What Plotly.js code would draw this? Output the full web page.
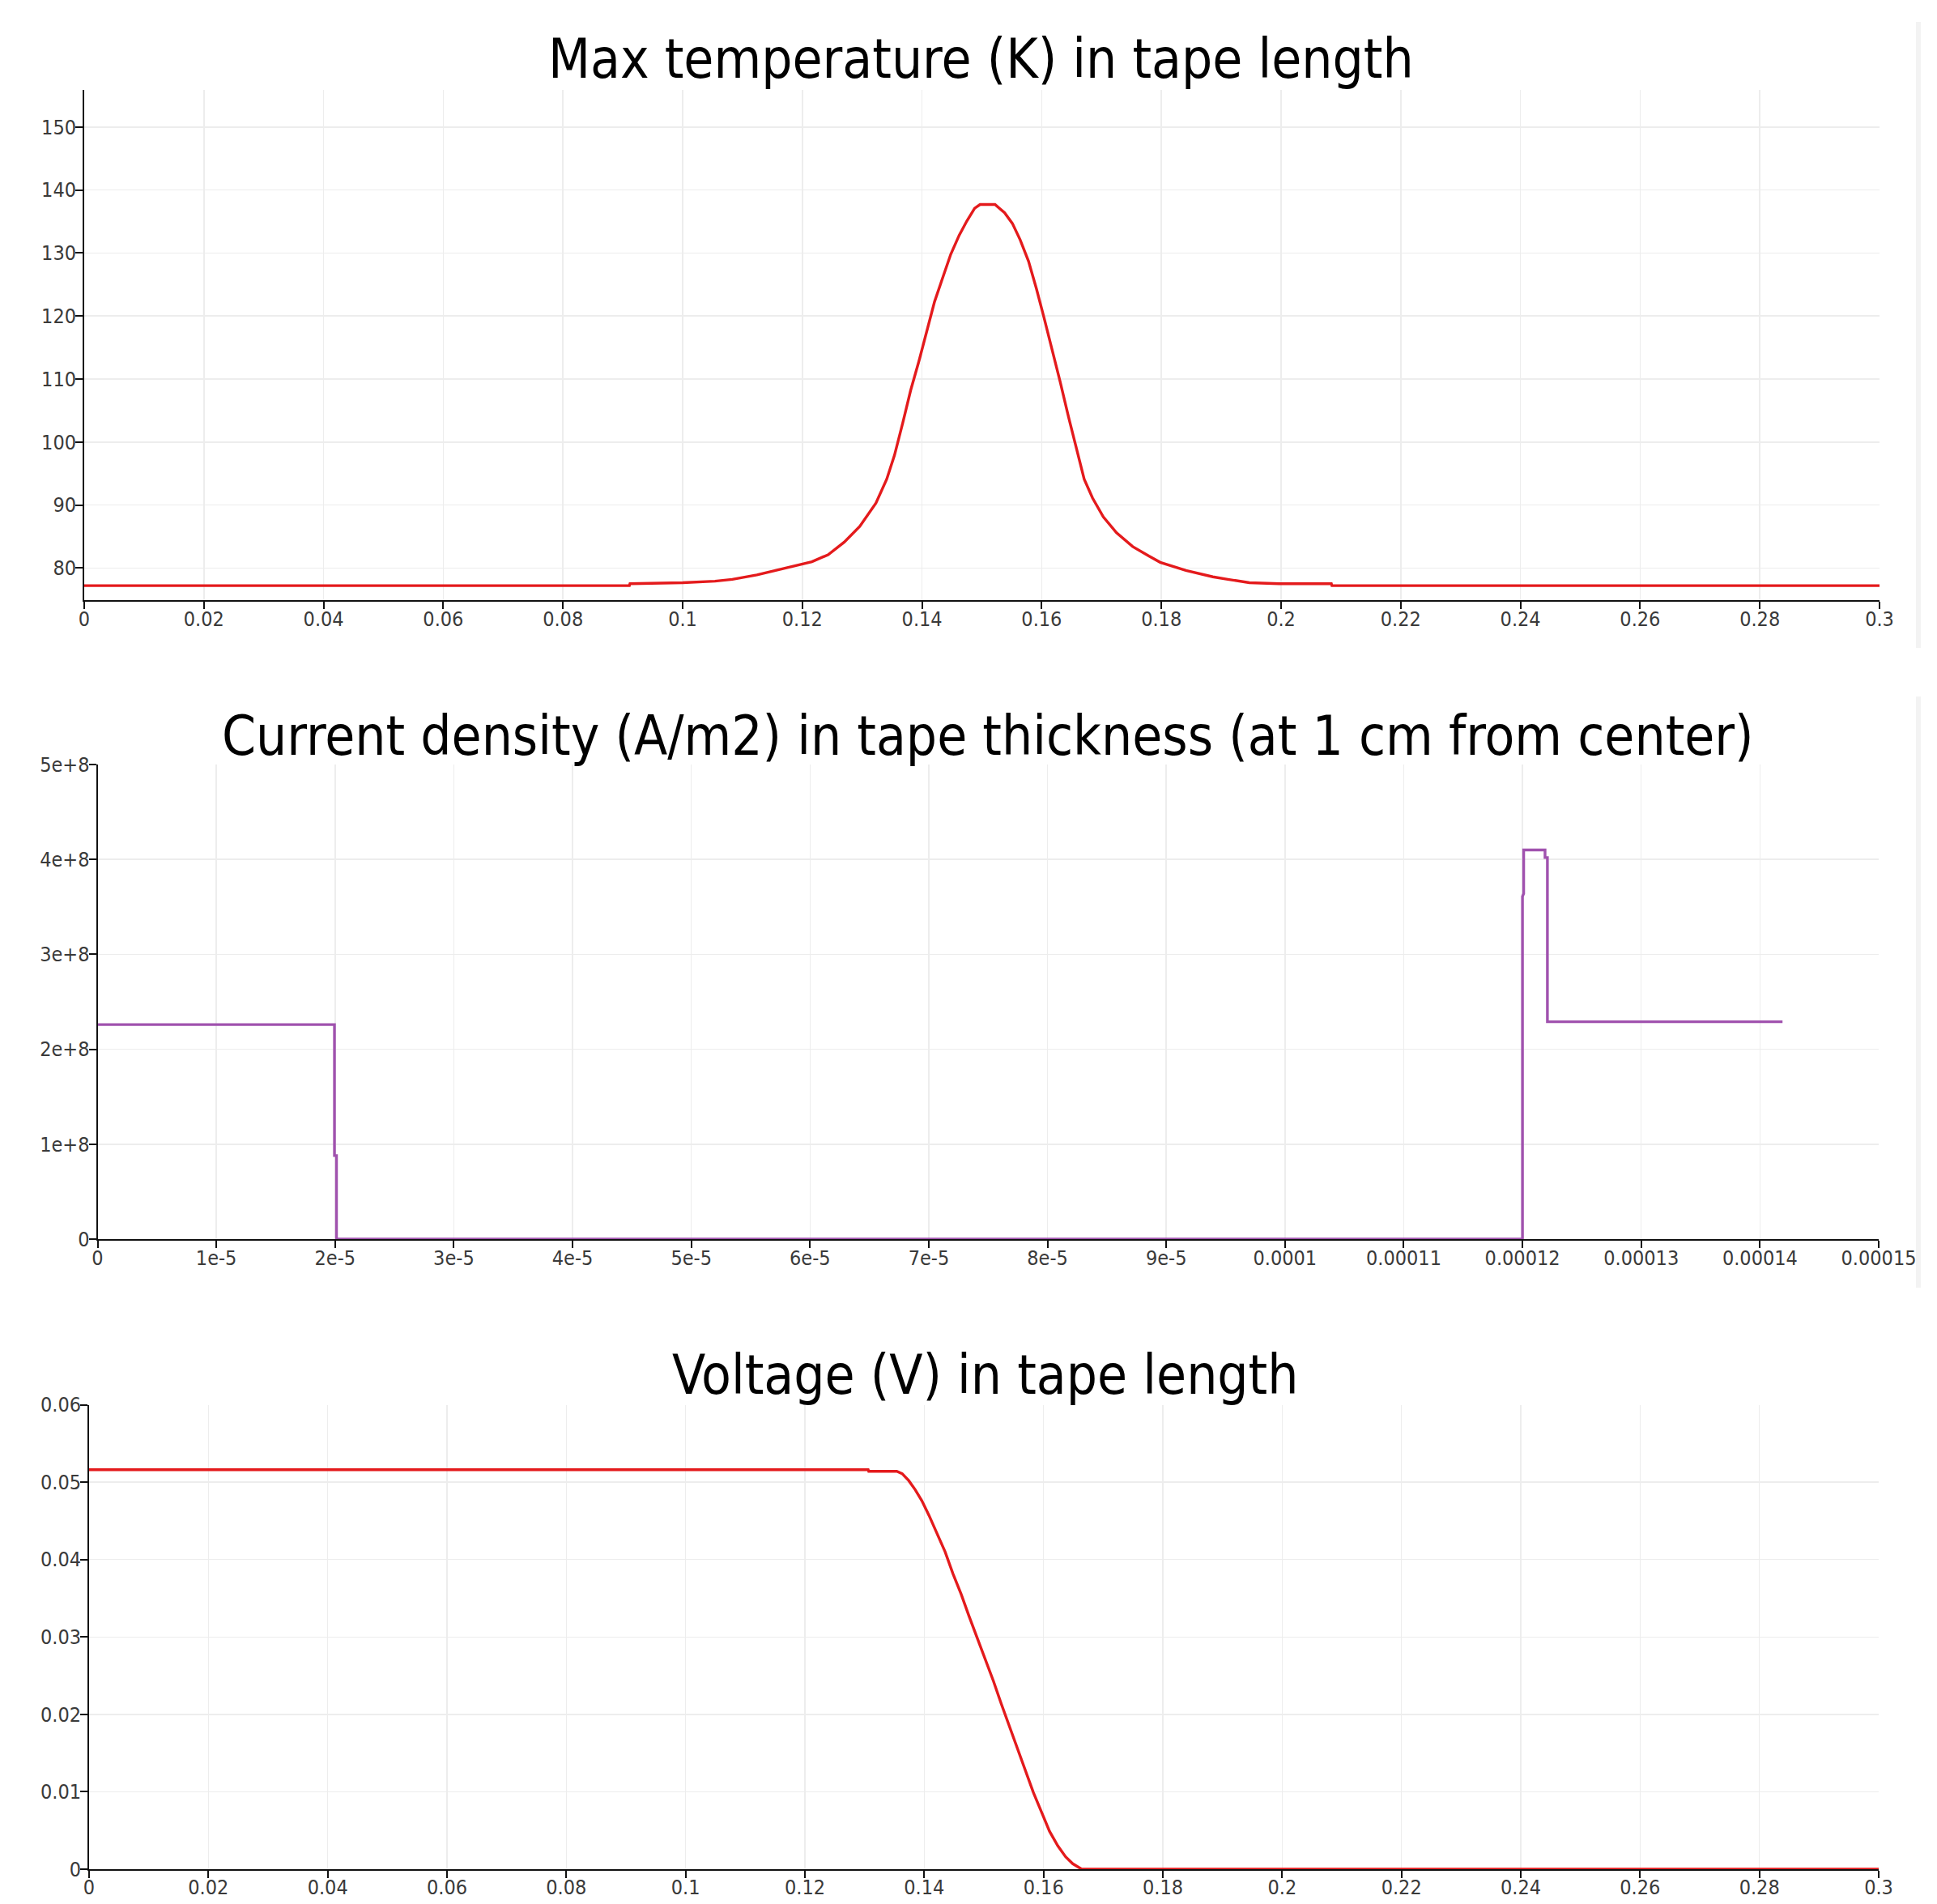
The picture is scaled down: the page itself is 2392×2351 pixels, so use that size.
<!DOCTYPE html>
<html>
<head>
<meta charset="utf-8">
<script src="https://cdn.plot.ly/plotly-3.0.1.min.js"></script>
<style>
  html, body { margin: 0; padding: 0; background: #ffffff; }
  #chart { width: 2392px; height: 2351px; }
</style>
</head>
<body>
<div id="chart"></div>
<script>
// ---- Data: Max temperature (K) along tape length (m) ----
const tempX = [0, 0.0911, 0.0912, 0.1, 0.1054, 0.1083, 0.1124, 0.116, 0.12, 0.1216,
  0.1243, 0.127, 0.1296, 0.1323, 0.1341, 0.1354, 0.1368, 0.1381, 0.1395, 0.1408,
  0.1421, 0.1435, 0.1448, 0.1462, 0.1475, 0.1488, 0.1497, 0.1522, 0.1538, 0.1551,
  0.1564, 0.1578, 0.1591, 0.1604, 0.1618, 0.1631, 0.1645, 0.1658, 0.1671, 0.1685,
  0.1703, 0.1725, 0.1752, 0.1779, 0.1798, 0.1841, 0.1886, 0.1911, 0.1947, 0.1997,
  0.2084, 0.2085, 0.3];
const tempY = [77.2, 77.2, 77.5, 77.66, 77.9, 78.2, 78.9, 79.7, 80.6, 81.0,
  82.1, 84.1, 86.6, 90.3, 94.1, 97.9, 103.1, 108.2, 112.9, 117.6,
  122.3, 126.2, 129.8, 132.8, 135.1, 137.1, 137.7, 137.7, 136.4, 134.7,
  132.1, 128.7, 124.4, 119.7, 114.6, 109.5, 103.9, 98.8, 94.1, 91.1,
  88.1, 85.6, 83.4, 81.9, 80.9, 79.6, 78.6, 78.2, 77.66, 77.5,
  77.5, 77.2, 77.2];

// ---- Data: Current density (A/m2) across tape thickness (m) ----
const jX = [0, 1.995e-5, 1.995e-5, 2.012e-5, 2.012e-5, 0.00012, 0.00012, 0.0001201,
  0.0001201, 0.0001219, 0.0001219, 0.0001221, 0.0001221, 0.0001419];
const jY = [2.26e8, 2.26e8, 0.88e8, 0.88e8, 0, 0, 3.61e8, 3.64e8,
  4.1e8, 4.1e8, 4.02e8, 4.02e8, 2.29e8, 2.29e8];

// ---- Data: Voltage (V) along tape length (m) ----
const vX = [0, 0.1306, 0.1307, 0.1354, 0.1363, 0.1374, 0.1385, 0.1396, 0.1408, 0.1421,
  0.1435, 0.1448, 0.1462, 0.1475, 0.1489, 0.1502, 0.1516, 0.1529, 0.1543, 0.1556,
  0.157, 0.1583, 0.1597, 0.161, 0.1624, 0.1637, 0.1649, 0.1658, 0.1664, 0.3];
const vY = [0.0516, 0.0516, 0.0514, 0.0514, 0.0511, 0.0502, 0.0490, 0.0476, 0.0457, 0.0434,
  0.0410, 0.0382, 0.0355, 0.0327, 0.0299, 0.0271, 0.0243, 0.0214, 0.0184, 0.0155,
  0.0125, 0.0099, 0.0073, 0.0049, 0.0030, 0.0016, 0.0007, 0.0003, 0, 0];

// ---- Tick labels ----
const lenTickVals = [0, 0.02, 0.04, 0.06, 0.08, 0.1, 0.12, 0.14, 0.16, 0.18, 0.2, 0.22, 0.24, 0.26, 0.28, 0.3];
const lenTickText = ["0", "0.02", "0.04", "0.06", "0.08", "0.1", "0.12", "0.14", "0.16", "0.18", "0.2", "0.22", "0.24", "0.26", "0.28", "0.3"];
const tempTickVals = [80, 90, 100, 110, 120, 130, 140, 150];
const tempTickText = ["80", "90", "100", "110", "120", "130", "140", "150"];
const thickTickVals = [0, 1e-5, 2e-5, 3e-5, 4e-5, 5e-5, 6e-5, 7e-5, 8e-5, 9e-5, 0.0001, 0.00011, 0.00012, 0.00013, 0.00014, 0.00015];
const thickTickText = ["0", "1e-5", "2e-5", "3e-5", "4e-5", "5e-5", "6e-5", "7e-5", "8e-5", "9e-5", "0.0001", "0.00011", "0.00012", "0.00013", "0.00014", "0.00015"];
const jTickVals = [0, 1e8, 2e8, 3e8, 4e8, 5e8];
const jTickText = ["0", "1e+8", "2e+8", "3e+8", "4e+8", "5e+8"];
const vTickVals = [0, 0.01, 0.02, 0.03, 0.04, 0.05, 0.06];
const vTickText = ["0", "0.01", "0.02", "0.03", "0.04", "0.05", "0.06"];

const titles = [
  "Max temperature (K) in tape length",
  "Current density (A/m2) in tape thickness (at 1 cm from center)",
  "Voltage (V) in tape length"
];

const RED = "#e41a1c";
const PURPLE = "#a052ae";
const FONT = "'Liberation Sans Narrow', 'DejaVu Sans Condensed', 'Liberation Sans', sans-serif";

const W = 2392, H = 2351;
function xd(l, r) { return [l / W, r / W]; }
function yd(top, bottom) { return [1 - bottom / H, 1 - top / H]; }

function axisBase(extra) {
  return Object.assign({
    showline: true, linecolor: "#111", linewidth: 2,
    ticks: "outside", ticklen: 9, tickwidth: 2, tickcolor: "#111",
    showgrid: true, gridcolor: "#ededed", gridwidth: 1.5,
    zeroline: false, mirror: false,
    tickfont: { family: FONT, size: 25, color: "#3a3a3a" },
    ticklabelstandoff: -6,
    tickmode: "array", fixedrange: true
  }, extra);
}

const traces = [
  { x: tempX, y: tempY, xaxis: "x", yaxis: "y", type: "scatter", mode: "lines",
    line: { color: RED, width: 3.4 }, showlegend: false, hoverinfo: "x+y" },
  { x: jX, y: jY, xaxis: "x2", yaxis: "y2", type: "scatter", mode: "lines",
    line: { color: PURPLE, width: 3.4 }, showlegend: false, hoverinfo: "x+y" },
  { x: vX, y: vY, xaxis: "x3", yaxis: "y3", type: "scatter", mode: "lines",
    line: { color: RED, width: 3.4 }, showlegend: false, hoverinfo: "x+y" }
];

const layout = {
  width: W, height: H,
  margin: { l: 0, r: 0, t: 0, b: 0 },
  paper_bgcolor: "#ffffff", plot_bgcolor: "#ffffff",
  font: { family: FONT, color: "#000" },
  showlegend: false,
  xaxis: axisBase({ domain: xd(104, 2321), range: [0, 0.3], anchor: "y",
    tickvals: lenTickVals, ticktext: lenTickText, ticklabelstandoff: -9 }),
  yaxis: axisBase({ domain: yd(111, 741), range: [74.9, 155.9], anchor: "x",
    tickvals: tempTickVals, ticktext: tempTickText }),
  xaxis2: axisBase({ domain: xd(120.5, 2320), range: [0, 0.00015], anchor: "y2",
    tickvals: thickTickVals, ticktext: thickTickText, ticklabelstandoff: -9 }),
  yaxis2: axisBase({ domain: yd(944, 1530), range: [0, 5e8], anchor: "x2",
    tickvals: jTickVals, ticktext: jTickText }),
  xaxis3: axisBase({ domain: xd(110, 2320), range: [0, 0.3], anchor: "y3",
    tickvals: lenTickVals, ticktext: lenTickText, ticklabelstandoff: -10 }),
  yaxis3: axisBase({ domain: yd(1734.5, 2308), range: [0, 0.06], anchor: "x3",
    tickvals: vTickVals, ticktext: vTickText }),
  annotations: [
    { text: titles[0], xref: "paper", yref: "paper", x: 1211 / W, y: 1 - 73 / H,
      xanchor: "center", yanchor: "middle", showarrow: false,
      font: { family: FONT, size: 67, color: "#000" } },
    { text: titles[1], xref: "paper", yref: "paper", x: 1220 / W, y: 1 - 909 / H,
      xanchor: "center", yanchor: "middle", showarrow: false,
      font: { family: FONT, size: 67, color: "#000" } },
    { text: titles[2], xref: "paper", yref: "paper", x: 1216 / W, y: 1 - 1698 / H,
      xanchor: "center", yanchor: "middle", showarrow: false,
      font: { family: FONT, size: 67, color: "#000" } }
  ],
  shapes: [
    { type: "rect", xref: "paper", yref: "paper", x0: 2366 / W, x1: 2372 / W,
      y0: 1 - 800 / H, y1: 1 - 27 / H, fillcolor: "#f3f3f3", line: { width: 0 }, layer: "below" },
    { type: "rect", xref: "paper", yref: "paper", x0: 2366 / W, x1: 2372 / W,
      y0: 1 - 1590 / H, y1: 1 - 860 / H, fillcolor: "#f3f3f3", line: { width: 0 }, layer: "below" }
  ]
};

Plotly.newPlot("chart", traces, layout, { displayModeBar: false, staticPlot: true });
</script>
</body>
</html>
